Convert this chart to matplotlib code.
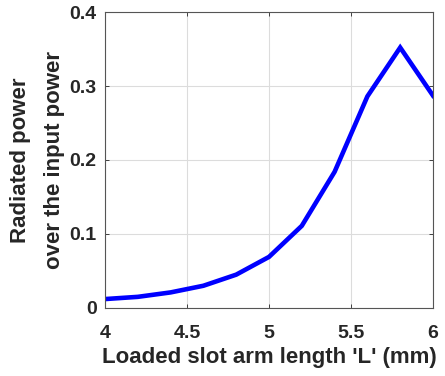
import matplotlib
matplotlib.use("Agg")
import matplotlib.pyplot as plt

arm_length = [4.0, 4.2, 4.4, 4.6, 4.8, 5.0, 5.2, 5.4, 5.6, 5.8, 6.0]
power_ratio = [0.012, 0.015, 0.021, 0.030, 0.045, 0.069, 0.111, 0.184, 0.286, 0.352, 0.287]

x_ticks = [4, 4.5, 5, 5.5, 6]
x_labels = ["4", "4.5", "5", "5.5", "6"]
y_ticks = [0, 0.1, 0.2, 0.3, 0.4]
y_labels = ["0", "0.1", "0.2", "0.3", "0.4"]

plt.rcParams["font.family"] = ["Liberation Sans", "DejaVu Sans"]
plt.rcParams["font.weight"] = "bold"

fig = plt.figure(figsize=(4.45, 3.76), dpi=100)
ax = fig.add_axes([0.236, 0.181, 0.737, 0.787])
ax.plot(arm_length, power_ratio, color="#0000FF", linewidth=3.3, solid_joinstyle="miter")

ax.set_xlim(4, 6)
ax.set_ylim(0, 0.4)
ax.set_xticks(x_ticks, x_labels)
ax.set_yticks(y_ticks, y_labels)
ax.tick_params(direction="in", length=3, width=0.6, top=True, right=True,
               labelsize=14, colors="#262626")
ax.tick_params(axis="x", pad=12)
ax.tick_params(axis="y", pad=6)
ax.grid(True, color="#dcdcdc", linewidth=0.8)
ax.set_axisbelow(True)
for side in ax.spines.values():
    side.set_color("#555555")
    side.set_linewidth(0.8)

ax.set_xlabel("Loaded slot arm length 'L' (mm)", fontsize=16, fontweight="bold",
              color="#262626", labelpad=4)
ax.set_ylabel("Radiated power\nover the input power", fontsize=16, fontweight="bold",
              color="#262626", labelpad=3, linespacing=1.85)

fig.savefig("out.png", dpi=100, facecolor="white")
